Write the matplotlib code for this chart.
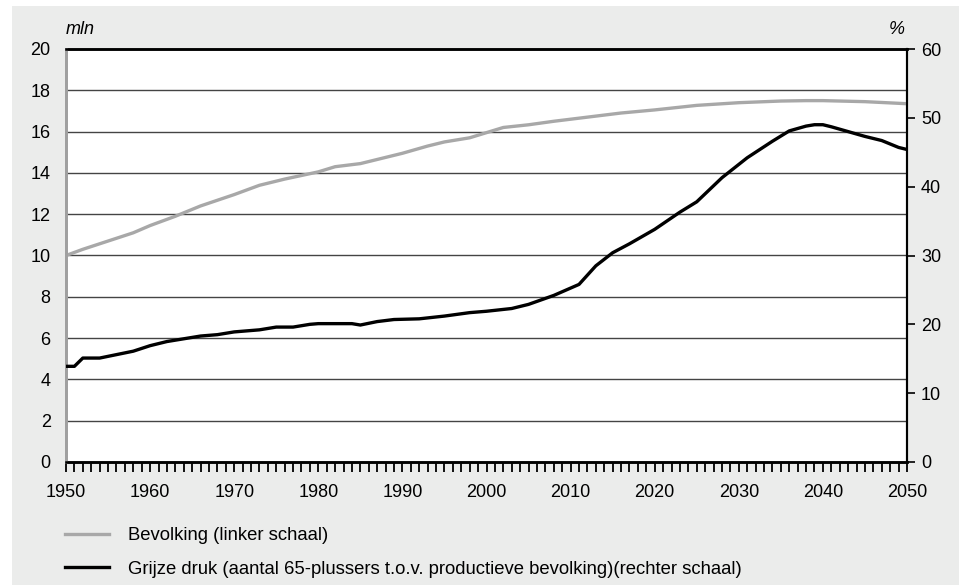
import matplotlib.pyplot as plt
from matplotlib.patches import Rectangle
from matplotlib.lines import Line2D
from matplotlib.ticker import MultipleLocator

plt.rcParams['font.family'] = ['Liberation Sans', 'DejaVu Sans']

# Bevolking (mln, linker schaal)
pop_years = [1950, 1952, 1955, 1958, 1960, 1963, 1966, 1970, 1973, 1976, 1980,
             1982, 1985, 1988, 1990, 1993, 1995, 1998, 2000, 2002, 2005, 2008,
             2010, 2013, 2016, 2020, 2025, 2030, 2035, 2038, 2040, 2045, 2050]
pop_values = [10.0, 10.3, 10.7, 11.1, 11.45, 11.9, 12.4, 12.95, 13.4, 13.7, 14.05,
              14.3, 14.45, 14.75, 14.95, 15.3, 15.5, 15.7, 15.95, 16.2, 16.33, 16.5,
              16.6, 16.75, 16.9, 17.05, 17.27, 17.4, 17.48, 17.5, 17.5, 17.45, 17.35]

# Grijze druk (%, rechter schaal)
gd_years = [1950, 1951, 1952, 1954, 1956, 1958, 1960, 1962, 1964, 1966, 1968,
            1970, 1973, 1975, 1977, 1979, 1980, 1984, 1985, 1987, 1989, 1992,
            1995, 1998, 2000, 2003, 2005, 2008, 2011, 2013, 2015, 2017, 2020,
            2023, 2025, 2028, 2031, 2034, 2036, 2038, 2039, 2040, 2041, 2043,
            2045, 2047, 2049, 2050]
gd_values = [13.9, 13.9, 15.1, 15.1, 15.6, 16.1, 16.9, 17.5, 17.9, 18.3, 18.5,
             18.9, 19.2, 19.6, 19.6, 20.0, 20.1, 20.1, 19.9, 20.4, 20.7, 20.8,
             21.2, 21.7, 21.9, 22.3, 22.9, 24.2, 25.8, 28.5, 30.4, 31.7, 33.8,
             36.3, 37.8, 41.3, 44.2, 46.6, 48.1, 48.8, 49.0, 49.0, 48.7, 48.0,
             47.3, 46.7, 45.7, 45.4]

label_pop = 'Bevolking (linker schaal)'
label_gd = 'Grijze druk (aantal 65-plussers t.o.v. productieve bevolking)(rechter schaal)'

fig = plt.figure(figsize=(9.59, 5.85), dpi=100)
fig.patches.append(Rectangle((12 / 959, 0), 1, 1 - 6 / 585, transform=fig.transFigure,
                             facecolor='#ebeceb', edgecolor='none', zorder=-10))

ax = fig.add_axes([66 / 959, 1 - 462 / 585, (907 - 66) / 959, (462 - 49) / 585])
ax.set_facecolor('white')
ax2 = ax.twinx()

ax.set_xlim(1950, 2050)
ax.set_ylim(0, 20)
ax2.set_ylim(0, 60)

for y in range(2, 20, 2):
    ax.axhline(y, color='#444444', lw=1.0, zorder=1)

ax.plot(pop_years, pop_values, color='#a8a8a8', lw=2.4, zorder=3)
ax2.plot(gd_years, gd_values, color='black', lw=2.4, zorder=3)

ax.set_yticks(range(0, 21, 2))
ax.tick_params(axis='y', length=0, labelsize=13, pad=11)
ax2.set_yticks(range(0, 61, 10))
ax2.tick_params(axis='y', length=6, width=1.2, labelsize=13, pad=4)

ax.xaxis.set_major_locator(MultipleLocator(10))
ax.xaxis.set_minor_locator(MultipleLocator(1))
ax.tick_params(axis='x', which='both', direction='out', length=7, width=1.3,
               labelsize=13, pad=9)

for a in (ax, ax2):
    a.spines['left'].set_color('#a0a0a0')
    a.spines['left'].set_linewidth(2)
    a.spines['right'].set_color('black')
    a.spines['right'].set_linewidth(1.5)
    a.spines['top'].set_linewidth(1.8)
    a.spines['bottom'].set_linewidth(1.8)

fig.text(66 / 959, 1 - 30 / 585, 'mln', fontsize=13, style='italic', va='center')
fig.text(897 / 959, 1 - 30 / 585, '%', fontsize=13, style='italic', va='center', ha='center')

handles = [Line2D([], [], color='#a8a8a8', lw=2.4), Line2D([], [], color='black', lw=2.4)]
fig.legend(handles, [label_pop, label_gd], loc='upper left',
           bbox_to_anchor=(65 / 959, 1 - 527 / 585), frameon=False, fontsize=13.3,
           borderpad=0, borderaxespad=0,
           handlelength=2.4, handletextpad=1.0, labelspacing=0.9)

fig.savefig('out.png', dpi=100)
